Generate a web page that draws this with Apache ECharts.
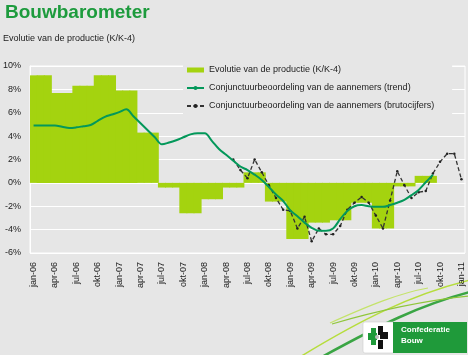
<!DOCTYPE html>
<html><head><meta charset="utf-8">
<script src="https://cdn.jsdelivr.net/npm/echarts@6/dist/echarts.min.js"></script>
<style>html,body{margin:0;padding:0;background:#e6e6e6}#c{width:468px;height:355px}</style>
</head><body><div id="c"></div><script>
// ---- data ----
const monthNames = ['jan','feb','mrt','apr','mei','jun','jul','aug','sep','okt','nov','dec'];
const years = ['06','07','08','09','10','11'];
// quarterly production growth (K/K-4), jan-06 .. okt-10
const productieQuarterly = [9.2, 7.7, 8.3, 9.2, 7.9, 4.3, -0.4, -2.6, -1.4, -0.4, 0.9, -1.6, -4.8, -3.4, -3.2, -1.7, -3.9, -0.3, 0.6, null];
// monthly trend, jan-06 .. sep-10
const trend = [4.9, 4.9, 4.9, 4.9, 4.8, 4.7, 4.75, 4.85, 4.95, 5.3, 5.65, 5.85, 6.05, 6.3, 5.7, 5.1, 4.5, 3.9, 3.3, 3.45,
  3.65, 3.9, 4.15, 4.25, 4.25, 3.6, 2.9, 2.4, 1.9, 1.4, 1.1, 0.7, 0.25, -0.35, -1.0, -1.55, -2.35, -2.85, -3.4, -3.85,
  -4.1, -4.1, -3.9, -3.1, -2.4, -2.0, -1.9, -2.0, -2.05, -2.05, -1.9, -1.7, -1.45, -1.05, -0.6, 0.05, 0.7];
// monthly raw figures, mei-08 .. jan-11
const brutoStart = 'mei-08';
const bruto = [2.0, 1.1, 0.4, 2.0, 0.9, -0.2, -1.3, -2.3, -2.4, -3.9, -2.9, -5.0, -3.9, -4.4, -4.4, -3.7, -2.3, -1.7, -1.2, -1.7,
  -2.8, -3.9, -1.5, 1.0, -0.2, -1.3, -0.8, -0.7, 0.8, 1.8, 2.5, 2.5, 0.3];
const yTicks = {min: -6, max: 10, interval: 2};
const seriesNames = ['Evolutie van de productie (K/K-4)', 'Conjunctuurbeoordeling van de aannemers (trend)', 'Conjunctuurbeoordeling van de aannemers (brutocijfers)'];

// ---- build ----
const categories = [];
years.forEach(y => monthNames.forEach(m => categories.push(m + '-' + y)));
categories.length = 61; // jan-06 .. jan-11
const barData = categories.map((c, i) => { const q = Math.floor(i / 3); return q < productieQuarterly.length ? productieQuarterly[q] : null; });
const trendData = categories.map((c, i) => i < trend.length ? trend[i] : null);
const bStart = categories.indexOf(brutoStart);
const brutoData = categories.map((c, i) => (i >= bStart && i - bStart < bruto.length) ? bruto[i - bStart] : null);

const FONT = 'Liberation Sans, Arial, sans-serif';
const chart = echarts.init(document.getElementById('c'), null, {renderer: 'canvas'});
chart.setOption({
  backgroundColor: '#e6e6e6',
  animation: false,
  textStyle: {fontFamily: FONT},
  title: [
    {text: 'Bouwbarometer', left: 5, top: 3, padding: 0,
      textStyle: {fontSize: 19, fontWeight: 'bold', color: '#1d9b3d', fontFamily: FONT}},
    {text: 'Evolutie van de productie (K/K-4)', left: 3, top: 34, padding: 0,
      textStyle: {fontSize: 9, fontWeight: 'normal', color: '#222', fontFamily: FONT}}
  ],
  grid: {left: 28, right: 3, top: 66, bottom: 102, show: true, borderColor: '#ffffff', borderWidth: 1, backgroundColor: 'transparent'},
  legend: {
    orient: 'vertical', left: 183, top: 60, padding: [5, 18, 5, 3],
    backgroundColor: '#e6e6e6', itemWidth: 17, itemHeight: 5, itemGap: 8,
    textStyle: {fontSize: 9, color: '#222', fontFamily: FONT, lineHeight: 10},
    data: [
      {name: seriesNames[0], icon: 'rect'},
      {name: seriesNames[1]},
      {name: seriesNames[2]}
    ]
  },
  xAxis: {
    type: 'category', data: categories, boundaryGap: true,
    axisLine: {show: true, lineStyle: {color: '#ffffff'}},
    axisTick: {show: false},
    axisLabel: {interval: 2, rotate: 90, fontSize: 9, color: '#222', margin: 9, fontFamily: FONT},
    splitLine: {show: false}
  },
  yAxis: {
    type: 'value', min: yTicks.min, max: yTicks.max, interval: yTicks.interval,
    axisLine: {show: true, lineStyle: {color: '#ffffff'}},
    axisTick: {show: false},
    axisLabel: {formatter: '{value}%', fontSize: 9, color: '#222', margin: 9, fontFamily: FONT},
    splitLine: {show: true, lineStyle: {color: '#ffffff', width: 1}}
  },
  series: [
    {name: seriesNames[0], type: 'bar', data: barData, barWidth: 8,
      itemStyle: {color: '#a4d30f'}, z: 2},
    {name: seriesNames[1], type: 'line', data: trendData, smooth: 0.35, showSymbol: false, symbol: 'none',
      lineStyle: {color: '#03985a', width: 2}, itemStyle: {color: '#03985a'}, z: 4, connectNulls: false},
    {name: seriesNames[2], type: 'line', data: brutoData, symbol: 'circle', symbolSize: 2.5, showSymbol: true,
      lineStyle: {color: '#333', width: 1.3, type: [4, 2.5]}, itemStyle: {color: '#222'}, z: 3}
  ],
  graphic: [
    {type: 'bezierCurve', shape: {x1: 295, y1: 360, cpx1: 360, cpy1: 320, cpx2: 410, cpy2: 295, x2: 470, y2: 280},
      style: {stroke: '#b6dd3c', lineWidth: 1.5, fill: null}, silent: true},
    {type: 'bezierCurve', shape: {x1: 320, y1: 358, cpx1: 380, cpy1: 325, cpx2: 420, cpy2: 305, x2: 470, y2: 292},
      style: {stroke: '#3aa544', lineWidth: 2.5, fill: null}, silent: true},
    {type: 'bezierCurve', shape: {x1: 330, y1: 323, cpx1: 370, cpy1: 305, cpx2: 400, cpy2: 293, x2: 428, y2: 288},
      style: {stroke: '#c4e36a', lineWidth: 1.2, fill: null}, silent: true},
    {type: 'bezierCurve', shape: {x1: 332, y1: 324, cpx1: 380, cpy1: 310, cpx2: 430, cpy2: 300, x2: 470, y2: 296},
      style: {stroke: '#8fc63a', lineWidth: 1.2, fill: null}, silent: true},
    {type: 'rect', shape: {x: 363, y: 322, width: 31, height: 31, r: 2}, style: {fill: '#ffffff', stroke: '#cfcfcf', lineWidth: 0.6}},
    {type: 'rect', shape: {x: 393, y: 322, width: 74, height: 31}, style: {fill: '#1f9a3a'}},
    {type: 'rect', shape: {x: 368, y: 333, width: 9, height: 7}, style: {fill: '#1f9a3a'}},
    {type: 'rect', shape: {x: 371, y: 328, width: 5, height: 17}, style: {fill: '#1f9a3a'}},
    {type: 'rect', shape: {x: 378, y: 326, width: 5, height: 9}, style: {fill: '#111'}},
    {type: 'rect', shape: {x: 380, y: 332, width: 8, height: 7}, style: {fill: '#111'}},
    {type: 'rect', shape: {x: 378, y: 340, width: 5, height: 9}, style: {fill: '#111'}},
    {type: 'circle', shape: {cx: 377, cy: 337, r: 2}, style: {fill: '#bbb'}},
    {type: 'text', left: 401, top: 326, style: {text: 'Confederatie', fill: '#fff', font: 'bold 8px ' + FONT}},
    {type: 'text', left: 401, top: 337, style: {text: 'Bouw', fill: '#fff', font: 'bold 8px ' + FONT}}
  ]
});
</script></body></html>
